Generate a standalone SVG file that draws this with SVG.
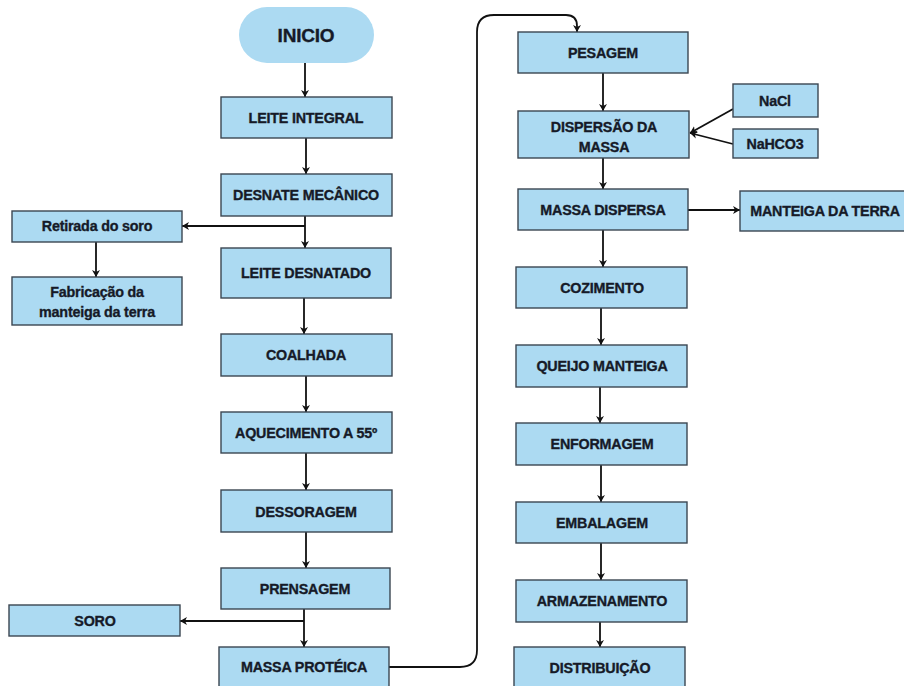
<svg xmlns="http://www.w3.org/2000/svg" width="904" height="686" viewBox="0 0 904 686">
<style>
.b{fill:#acdaf2;stroke:#3b4652;stroke-width:1.4}
.t{font-family:"Liberation Sans",Arial,sans-serif;font-weight:700;font-size:14.3px;fill:#161a28;stroke:#161a28;stroke-width:0.35;text-anchor:middle;letter-spacing:-0.2px}
.c{fill:none;stroke:#111;stroke-width:1.8}
</style>
<defs>
<marker id="a" markerUnits="userSpaceOnUse" markerWidth="10" markerHeight="10" refX="7" refY="4" orient="auto">
<path d="M0,0 L7,4 L0,8 L2,4 Z" fill="#111"/>
</marker>
</defs>
<rect width="904" height="686" fill="#fff"/>
<g id="connectors">
<path class="c" d="M305,63 V97" marker-end="url(#a)"/>
<path class="c" d="M306,138 V174" marker-end="url(#a)"/>
<path class="c" d="M305,216 V248" marker-end="url(#a)"/>
<path class="c" d="M305,226 H182" marker-end="url(#a)"/>
<path class="c" d="M96,242 V277" marker-end="url(#a)"/>
<path class="c" d="M304,298 V334" marker-end="url(#a)"/>
<path class="c" d="M306,376 V412" marker-end="url(#a)"/>
<path class="c" d="M306,453 V490" marker-end="url(#a)"/>
<path class="c" d="M306,532 V568" marker-end="url(#a)"/>
<path class="c" d="M304,609 V647" marker-end="url(#a)"/>
<path class="c" d="M304,621 H180" marker-end="url(#a)"/>
<path class="c" d="M389,667 H460 Q477,667 477,650 V32 Q477,15 494,15 H566 Q577,15 577,26 V32" marker-end="url(#a)"/>
<path class="c" d="M603,73 V111" marker-end="url(#a)"/>
<path class="c" d="M733,109 L690,133" marker-end="url(#a)"/>
<path class="c" d="M733,144 L690,133" marker-end="url(#a)"/>
<path class="c" d="M603,158 V189" marker-end="url(#a)"/>
<path class="c" d="M688,210 H740" marker-end="url(#a)"/>
<path class="c" d="M603,230 V267" marker-end="url(#a)"/>
<path class="c" d="M601,308 V345" marker-end="url(#a)"/>
<path class="c" d="M600,387 V423" marker-end="url(#a)"/>
<path class="c" d="M601,465 V502" marker-end="url(#a)"/>
<path class="c" d="M601,543 V580" marker-end="url(#a)"/>
<path class="c" d="M600,622 V647" marker-end="url(#a)"/>
</g>
<g id="inicio"><rect x="239" y="7" width="135" height="56" rx="28" fill="#acdaf2"/><text class="t" x="306" y="42" style="font-size:19px">INICIO</text></g>
<g id="leite-integral"><rect class="b" x="221" y="97" width="171" height="41"/><text class="t" x="306" y="123">LEITE INTEGRAL</text></g>
<g id="desnate"><rect class="b" x="221" y="174" width="171" height="42"/><text class="t" x="306" y="200">DESNATE MECÂNICO</text></g>
<g id="retirada"><rect class="b" x="12" y="211" width="170" height="31"/><text class="t" x="97" y="231">Retirada do soro</text></g>
<g id="fabricacao"><rect class="b" x="12" y="277" width="170" height="48"/><text class="t" x="97" y="297">Fabricação da</text><text class="t" x="97" y="317">manteiga da terra</text></g>
<g id="leite-desnatado"><rect class="b" x="221" y="248" width="170" height="50"/><text class="t" x="306" y="278">LEITE DESNATADO</text></g>
<g id="coalhada"><rect class="b" x="221" y="334" width="171" height="42"/><text class="t" x="306" y="360">COALHADA</text></g>
<g id="aquecimento"><rect class="b" x="221" y="412" width="171" height="41"/><text class="t" x="306" y="438">AQUECIMENTO A 55º</text></g>
<g id="dessoragem"><rect class="b" x="221" y="490" width="171" height="42"/><text class="t" x="306" y="517">DESSORAGEM</text></g>
<g id="prensagem"><rect class="b" x="221" y="568" width="169" height="41"/><text class="t" x="305" y="594">PRENSAGEM</text></g>
<g id="soro"><rect class="b" x="9" y="605" width="171" height="31"/><text class="t" x="95" y="626">SORO</text></g>
<g id="massa-proteica"><rect class="b" x="219" y="647" width="170" height="50"/><text class="t" x="304" y="672">MASSA PROTÉICA</text></g>
<g id="pesagem"><rect class="b" x="518" y="32" width="170" height="41"/><text class="t" x="603" y="58">PESAGEM</text></g>
<g id="dispersao"><rect class="b" x="518" y="111" width="171" height="47"/><text class="t" x="604" y="132">DISPERSÃO DA</text><text class="t" x="604" y="152">MASSA</text></g>
<g id="nacl"><rect class="b" x="733" y="84" width="85" height="33"/><text class="t" x="775" y="106">NaCl</text></g>
<g id="nahco3"><rect class="b" x="733" y="129" width="85" height="29"/><text class="t" x="775" y="149">NaHCO3</text></g>
<g id="massa-dispersa"><rect class="b" x="518" y="189" width="170" height="41"/><text class="t" x="603" y="215">MASSA DISPERSA</text></g>
<g id="manteiga-terra"><rect class="b" x="740" y="191" width="172" height="40"/><text class="t" x="825" y="216">MANTEIGA DA TERRA</text></g>
<g id="cozimento"><rect class="b" x="516" y="267" width="171" height="41"/><text class="t" x="602" y="293">COZIMENTO</text></g>
<g id="queijo"><rect class="b" x="516" y="345" width="171" height="42"/><text class="t" x="602" y="371">QUEIJO MANTEIGA</text></g>
<g id="enformagem"><rect class="b" x="516" y="423" width="171" height="42"/><text class="t" x="602" y="449">ENFORMAGEM</text></g>
<g id="embalagem"><rect class="b" x="516" y="502" width="171" height="41"/><text class="t" x="602" y="528">EMBALAGEM</text></g>
<g id="armazenamento"><rect class="b" x="516" y="580" width="171" height="42"/><text class="t" x="602" y="606">ARMAZENAMENTO</text></g>
<g id="distribuicao"><rect class="b" x="514" y="647" width="171" height="50"/><text class="t" x="600" y="673">DISTRIBUIÇÃO</text></g>
</svg>
